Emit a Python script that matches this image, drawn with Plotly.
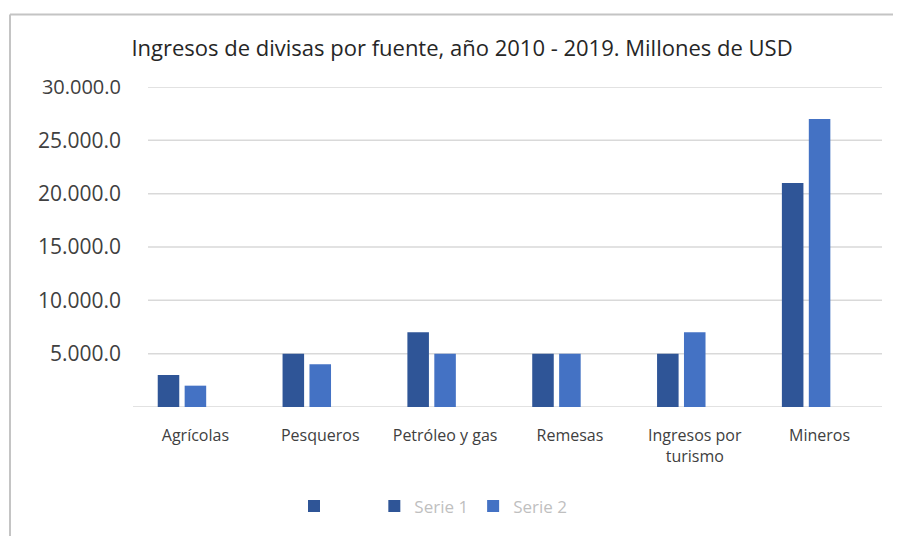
import plotly.graph_objects as go

categories = ["Agrícolas", "Pesqueros", "Petróleo y gas", "Remesas", "Ingresos por<br>turismo", "Mineros"]
serie1 = [3000, 5000, 7000, 5000, 5000, 21000]
serie2 = [2000, 4000, 5000, 5000, 7000, 27000]
serie_blank = [None, None, None, None, None, None]
tick_vals = [5000, 10000, 15000, 20000, 25000, 30000]
tick_text = ["5.000.0", "10.000.0", "15.000.0", "20.000.0", "25.000.0",
             "<span style='font-size:20px'>30.000.0</span>"]
title_text = "Ingresos de divisas por fuente, año 2010 - 2019. Millones de USD"

DARK = "#2F5597"
LIGHT = "#4472C4"
FONT = "Open Sans"

fig = go.Figure()
fig.add_trace(go.Bar(x=categories, y=serie1, name="Serie 1", marker_color=DARK,
                     marker_line_width=0, legendrank=2))
fig.add_trace(go.Bar(x=categories, y=serie2, name="Serie 2", marker_color=LIGHT,
                     marker_line_width=0, legendrank=3))
fig.add_trace(go.Bar(x=categories, y=serie_blank, name="        ", marker_color=DARK,
                     marker_line_width=0, legendrank=1))

OFF = 8  # page body margin
W, H = 901 - OFF, 536 - OFF
L = 133 - OFF
T = 87 - OFF
R = W - (882 - OFF)
B = H - (409 - OFF)
pw = W - L - R
ph = H - T - B

def px_x(px):
    return (px - OFF - L) / pw

def px_y(py):
    return (H - B - (py - OFF)) / ph

shapes = []
for v in tick_vals:
    shapes.append(dict(type="line", xref="paper", yref="y", x0=px_x(148), x1=1, y0=v, y1=v,
                       line=dict(color="#D9D9D9", width=1.5), layer="below"))
shapes.append(dict(type="line", xref="paper", yref="y", x0=0, x1=1, y0=0, y1=0,
                   line=dict(color="#D9D9D9", width=1.5), layer="below"))
shapes.append(dict(type="line", xref="paper", yref="paper", x0=px_x(10), x1=px_x(10),
                   y0=px_y(545), y1=px_y(14), line=dict(color="#C4C4C4", width=2)))
shapes.append(dict(type="line", xref="paper", yref="paper", x0=px_x(10), x1=px_x(910),
                   y0=px_y(14), y1=px_y(14), line=dict(color="#C4C4C4", width=2)))

fig.update_layout(
    width=W, height=H,
    margin=dict(l=L, r=R, t=T, b=B),
    paper_bgcolor="white", plot_bgcolor="white",
    barmode="group", bargap=0.353, bargroupgap=0.2,
    font=dict(family=FONT, color="#404040"),
    title=dict(text=title_text, font=dict(family=FONT, size=22, color="#262626"),
               xref="paper", x=px_x(462), xanchor="center",
               yref="container", y=1 - (48 - OFF) / H, yanchor="middle"),
    xaxis=dict(showgrid=False, showline=False, zeroline=False, ticks="",
               tickfont=dict(size=16, color="#404040"), ticklabelstandoff=17),
    yaxis=dict(range=[0, 30000], showgrid=False, zeroline=False, showline=False,
               tickvals=tick_vals, ticktext=tick_text, ticks="",
               tickfont=dict(size=21, color="#404040"), ticklabelstandoff=11),
    legend=dict(orientation="h", x=px_x(433), xanchor="center", y=px_y(509), yanchor="middle",
                font=dict(size=17, color="#BFBFBF"), itemwidth=30, traceorder="normal"),
    shapes=shapes,
    showlegend=True,
)

fig.write_html("out.html")
